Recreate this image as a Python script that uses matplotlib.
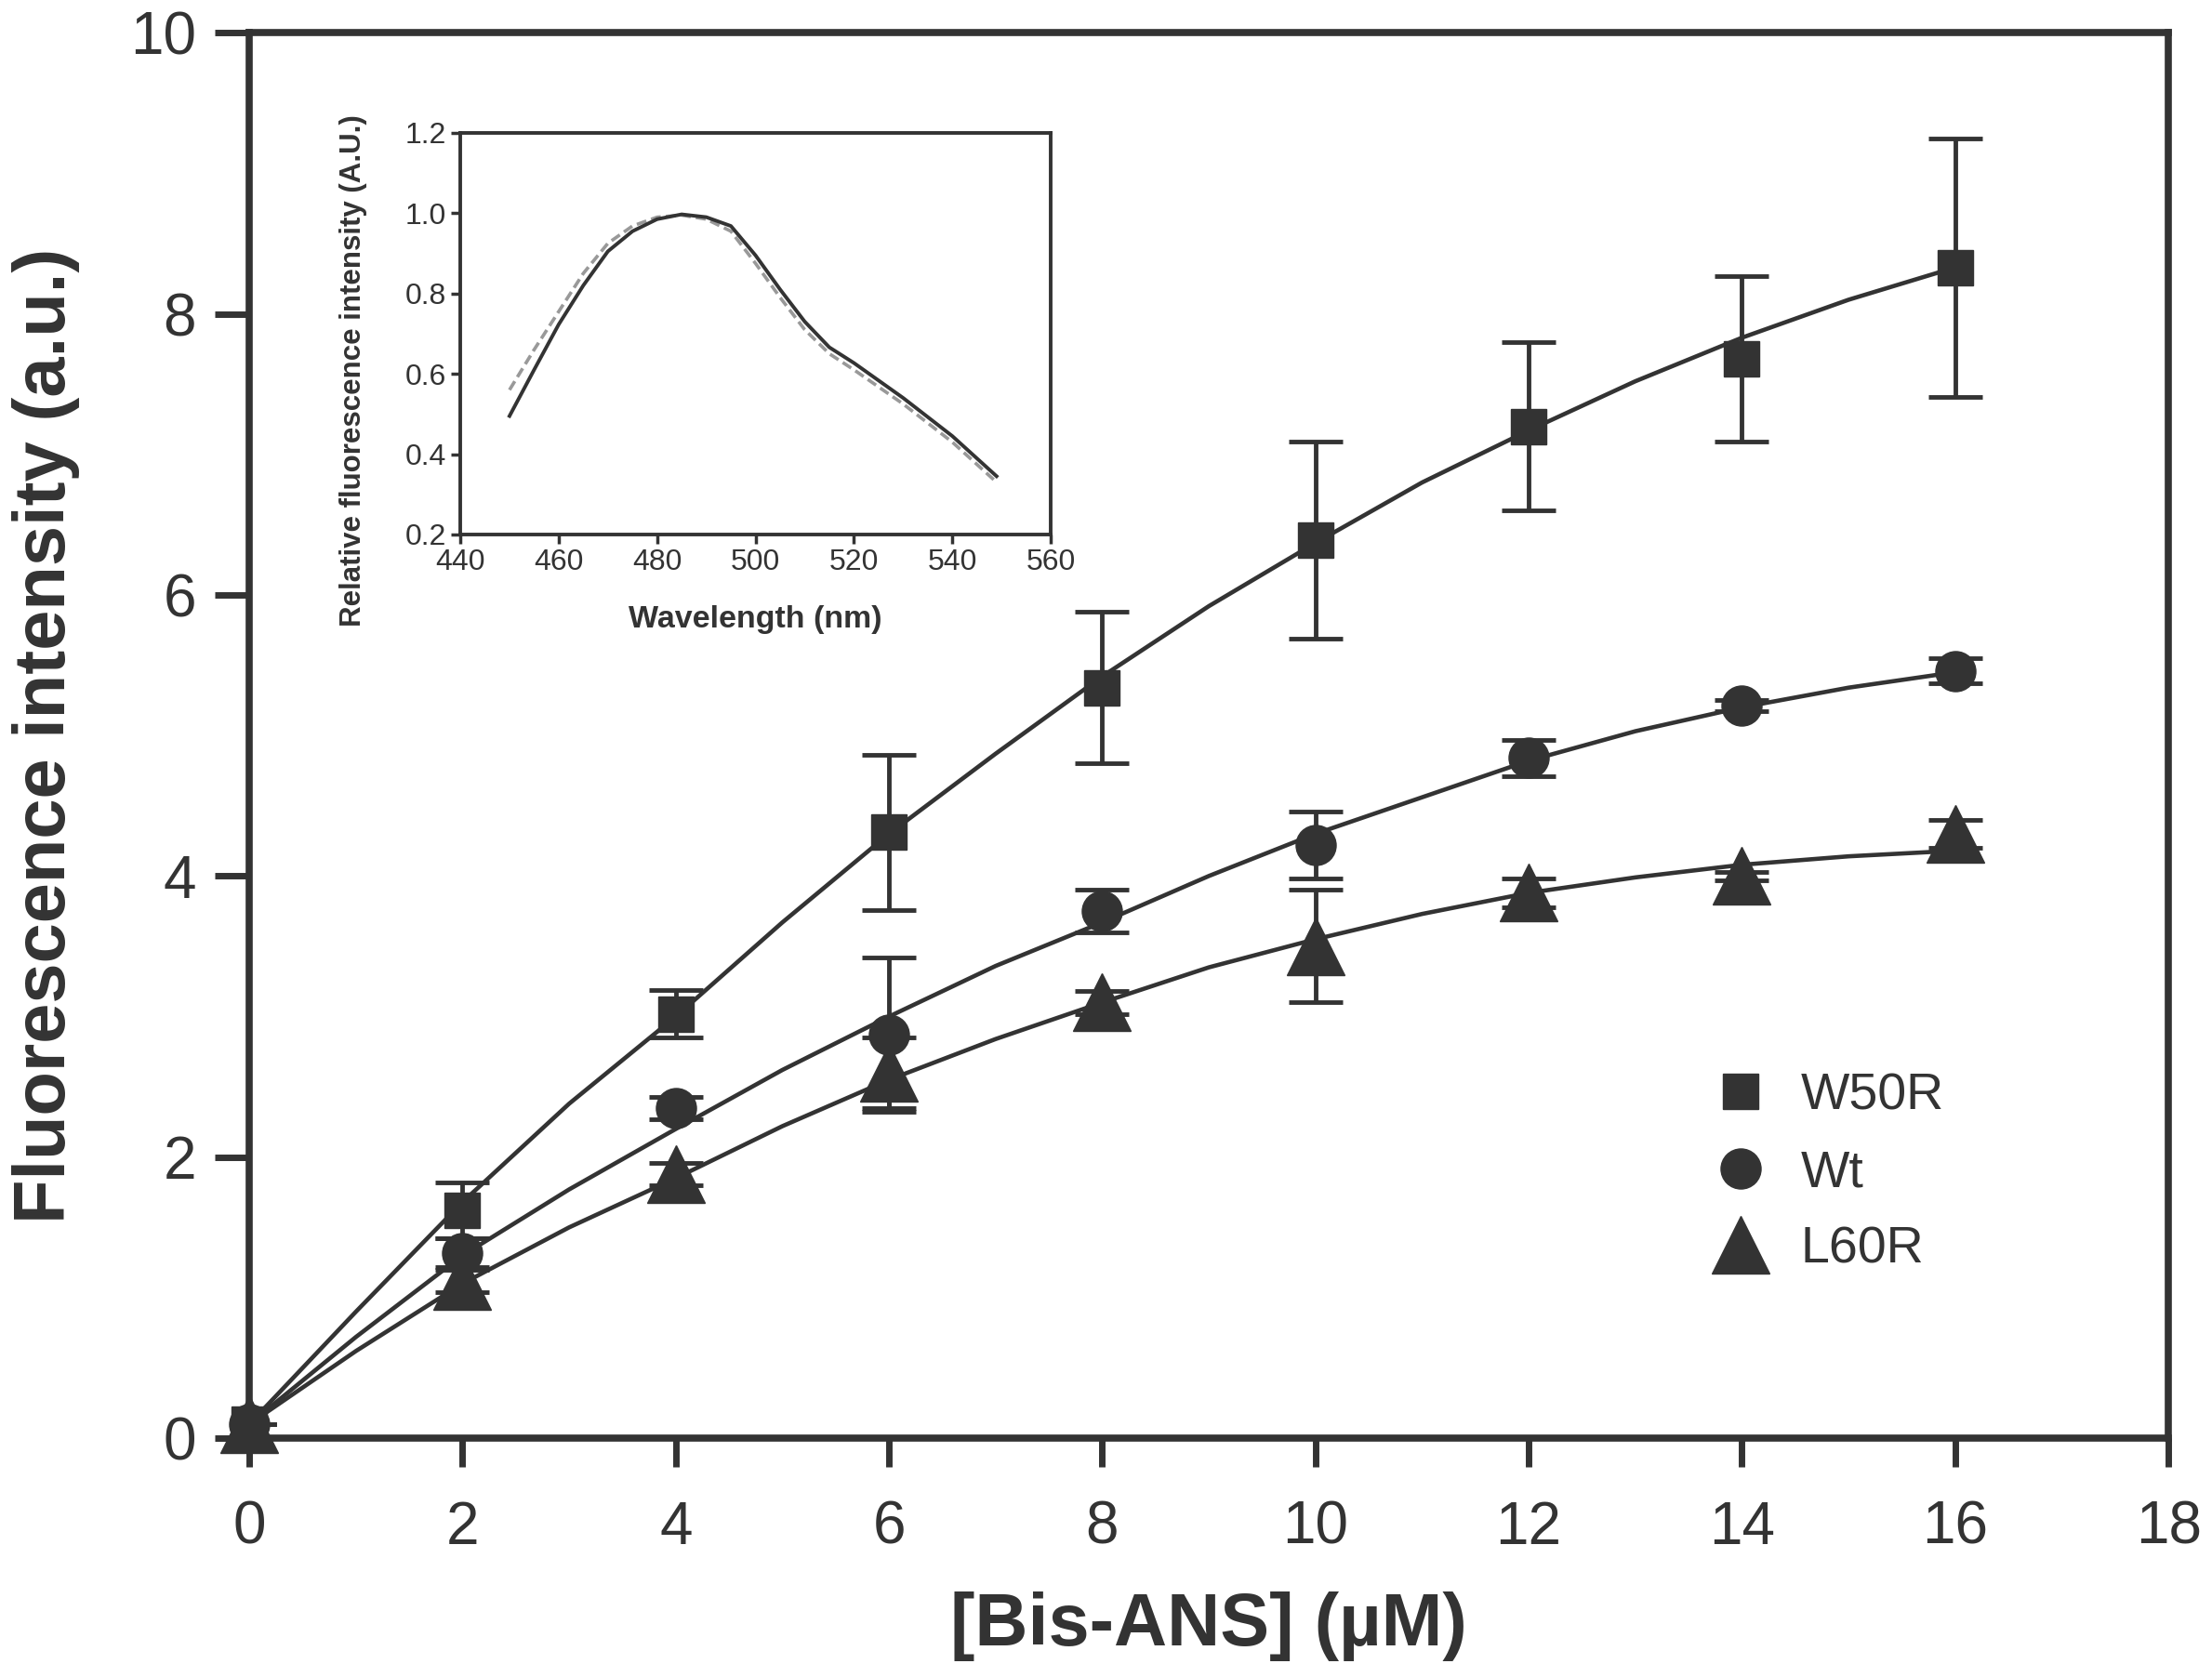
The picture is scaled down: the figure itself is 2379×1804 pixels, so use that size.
import numpy as np
import matplotlib
matplotlib.use('Agg')
import matplotlib.pyplot as plt
from matplotlib.lines import Line2D

plt.rcParams['font.family'] = ['Liberation Sans', 'DejaVu Sans']

# main plot data
conc = [0, 2, 4, 6, 8, 10, 12, 14, 16]
w50r = [0.1, 1.62, 3.02, 4.31, 5.34, 6.39, 7.2, 7.68, 8.33]
w50r_err = [0.0, 0.2, 0.17, 0.55, 0.54, 0.7, 0.6, 0.59, 0.92]
wt = [0.1, 1.32, 2.35, 2.87, 3.75, 4.22, 4.84, 5.21, 5.46]
wt_err = [0.0, 0.1, 0.08, 0.55, 0.15, 0.24, 0.13, 0.04, 0.09]
l60r = [0.1, 1.12, 1.88, 2.6, 3.1, 3.5, 3.88, 4.0, 4.3]
l60r_err = [0.0, 0.08, 0.08, 0.25, 0.08, 0.4, 0.1, 0.03, 0.1]

# fitted curves
fit_x = [0, 1, 2, 3, 4, 5, 6, 7, 8, 9, 10, 11, 12, 13, 14, 15, 16]
w50r_fit = [0.1, 0.9, 1.68, 2.38, 3.0, 3.67, 4.3, 4.87, 5.42, 5.92, 6.37, 6.8, 7.17, 7.52, 7.83, 8.1, 8.33]
wt_fit = [0.1, 0.72, 1.3, 1.77, 2.2, 2.62, 3.0, 3.36, 3.67, 4.0, 4.3, 4.56, 4.82, 5.03, 5.2, 5.34, 5.45]
l60r_fit = [0.1, 0.62, 1.1, 1.5, 1.85, 2.22, 2.55, 2.84, 3.1, 3.35, 3.55, 3.73, 3.88, 3.99, 4.08, 4.14, 4.18]

# inset spectra
wl = [450, 455, 460, 465, 470, 475, 480, 485, 490, 495, 500, 505, 510, 515, 520, 530, 540, 549]
spec_solid = [0.495, 0.61, 0.723, 0.82, 0.905, 0.955, 0.985, 0.997, 0.99, 0.968, 0.895, 0.81, 0.73, 0.666, 0.627, 0.54, 0.445, 0.345]
spec_dash = [0.56, 0.66, 0.755, 0.85, 0.925, 0.968, 0.99, 0.995, 0.985, 0.955, 0.875, 0.79, 0.71, 0.65, 0.61, 0.525, 0.43, 0.33]

dark = '#333333'

fig = plt.figure(figsize=(23.79, 18.04), dpi=100)
ax = fig.add_axes([0.1127, 0.1424, 0.8676, 0.8381])

for y, err, fit, mk, ms in [(w50r, w50r_err, w50r_fit, 's', 28),
                            (wt, wt_err, wt_fit, 'o', 31),
                            (l60r, l60r_err, l60r_fit, '^', 44)]:
	ax.plot(fit_x, fit, color=dark, lw=3.3, zorder=2)
	ax.errorbar(conc, y, yerr=err, fmt='none', ecolor=dark, elinewidth=3.5,
	            capsize=21, capthick=3.5, zorder=3)
	ax.plot(conc, y, ls='none', marker=mk, ms=ms, color=dark, mec=dark, zorder=4, clip_on=False)

ax.set_xlim(0, 18)
ax.set_ylim(0, 10)
ax.set_xticks(np.arange(0, 19, 2))
ax.set_yticks(np.arange(0, 11, 2))
for s in ax.spines.values():
	s.set_linewidth(5.5)
	s.set_color(dark)
ax.tick_params(axis='both', direction='out', width=5, color=dark, labelsize=46, labelcolor=dark)
ax.tick_params(axis='y', length=27, pad=14)
ax.tick_params(axis='x', length=22, pad=26)
ax.set_xlabel('[Bis-ANS] (\u00b5M)', fontsize=57, fontweight='bold', color=dark)
ax.set_ylabel('Fluorescence intensity (a.u.)', fontsize=56, fontweight='bold', color=dark)
ax.xaxis.set_label_coords(0.5, -0.109)
ax.yaxis.set_label_coords(-0.088, 0.5)

handles = [Line2D([], [], ls='none', marker='s', ms=28, color=dark),
           Line2D([], [], ls='none', marker='o', ms=31, color=dark),
           Line2D([], [], ls='none', marker='^', ms=44, color=dark)]
leg = ax.legend(handles, ['W50R', 'Wt', 'L60R'], loc='upper left',
                bbox_to_anchor=(0.7623, 0.376), bbox_transform=fig.transFigure,
                frameon=False, fontsize=40, borderpad=0, handlelength=1.1,
                handletextpad=0.62, labelspacing=0.55)
for t in leg.get_texts():
	t.set_color(dark)

# inset
ins = fig.add_axes([0.2081, 0.6813, 0.2669, 0.2395])
ins.plot(wl, spec_dash, color='#999999', lw=2.6, ls=(0, (3, 1.5)))
ins.plot(wl, spec_solid, color=dark, lw=2.8)
ins.set_xlim(440, 560)
ins.set_ylim(0.2, 1.2)
ins.set_xticks(np.arange(440, 561, 20))
ins.set_yticks([0.2, 0.4, 0.6, 0.8, 1.0, 1.2])
ins.set_yticklabels(['%.1f' % v for v in [0.2, 0.4, 0.6, 0.8, 1.0, 1.2]])
for s in ins.spines.values():
	s.set_linewidth(2.8)
	s.set_color(dark)
ins.tick_params(axis='both', direction='out', length=7, width=2.5, color=dark,
                labelsize=23, labelcolor=dark, pad=4)
ins.set_xlabel('Wavelength (nm)', fontsize=24.5, fontweight='bold', color=dark)
ins.set_ylabel('Relative fluorescence intensity (A.U.)', fontsize=22.5, fontweight='bold', color=dark)
ins.xaxis.set_label_coords(0.5, -0.176)
ins.yaxis.set_label_coords(-0.157, 0.407)

fig.savefig('out.png', dpi=100)
